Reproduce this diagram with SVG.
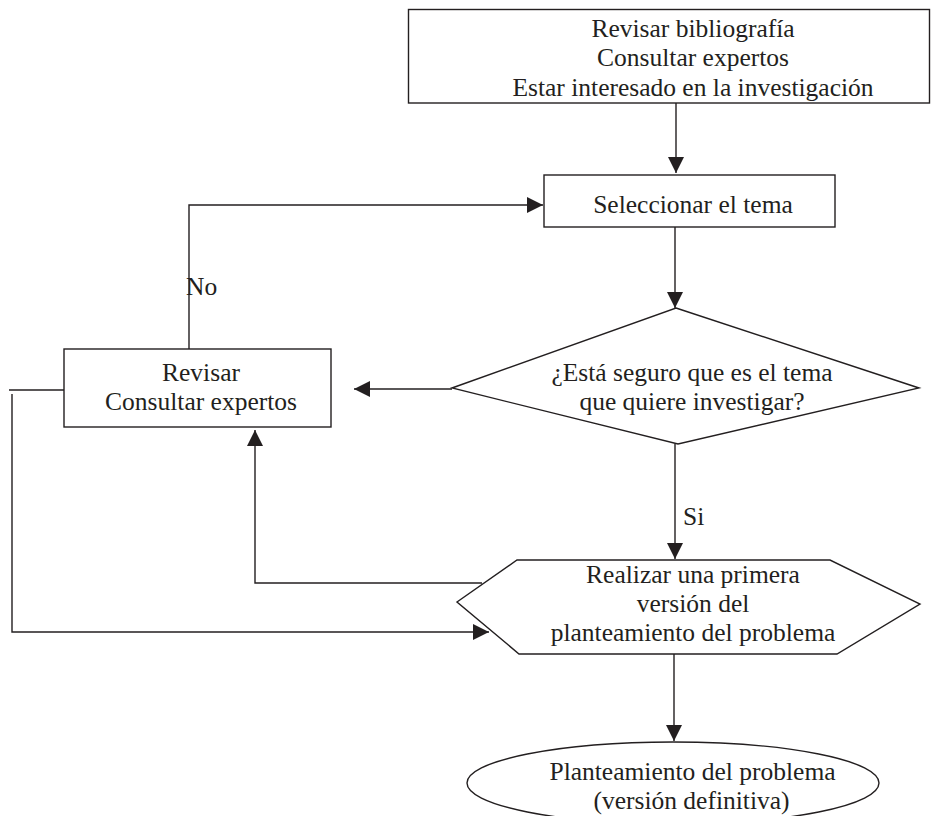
<svg xmlns="http://www.w3.org/2000/svg" width="931" height="816" viewBox="0 0 931 816">
<style>
.shape{fill:#fff;stroke:#231f20;stroke-width:1.4}
.conn{fill:none;stroke:#231f20;stroke-width:1.4}
text{font-family:"Liberation Serif","Times New Roman","DejaVu Serif",serif;font-size:25.5px;fill:#231f20;text-anchor:middle}
.lbl{text-anchor:start}
</style>
<defs>
<marker id="arr" viewBox="0 0 16 16" refX="16" refY="8" markerWidth="16" markerHeight="16" markerUnits="userSpaceOnUse" orient="auto">
<path d="M0,0 L16,8 L0,16 z" fill="#231f20"/>
</marker>
</defs>
<rect width="931" height="816" fill="#fff"/>
<g id="connectors">
<path class="conn" d="M676,103 V173" marker-end="url(#arr)"/>
<path class="conn" d="M675,227 V308" marker-end="url(#arr)"/>
<path class="conn" d="M452,389 H354" marker-end="url(#arr)"/>
<path class="conn" d="M189,349 V205 H543" marker-end="url(#arr)"/>
<path class="conn" d="M675,444 V559" marker-end="url(#arr)"/>
<path class="conn" d="M482,583 H255 V430" marker-end="url(#arr)"/>
<path class="conn" d="M64,390 H9"/>
<path class="conn" d="M12,394 V632 H489" marker-end="url(#arr)"/>
<path class="conn" d="M674,654 V741" marker-end="url(#arr)"/>
<text class="lbl" x="186" y="295">No</text>
<text class="lbl" x="683" y="525">Si</text>
</g>
<g id="node-inicio">
<rect class="shape" x="408.5" y="9.5" width="521" height="93.5"/>
<text x="693" y="37">Revisar bibliografía</text>
<text x="693" y="66">Consultar expertos</text>
<text x="693" y="95.5">Estar interesado en la investigación</text>
</g>
<g id="node-seleccionar">
<rect class="shape" x="544" y="175" width="291" height="52"/>
<text x="693" y="213">Seleccionar el tema</text>
</g>
<g id="node-decision">
<polygon class="shape" points="676,308 919,388 678,444 452,388"/>
<text x="692" y="381">¿Está seguro que es el tema</text>
<text x="692" y="409.5">que quiere investigar?</text>
</g>
<g id="node-revisar">
<rect class="shape" x="64" y="349" width="267" height="78"/>
<text x="201" y="381">Revisar</text>
<text x="201" y="410">Consultar expertos</text>
</g>
<g id="node-primera-version">
<polygon class="shape" points="517,560 830,560 920,604 837,654 519,654 457,602"/>
<text x="693" y="583">Realizar una primera</text>
<text x="693" y="612">versión del</text>
<text x="693" y="641">planteamiento del problema</text>
</g>
<g id="node-definitiva">
<ellipse class="shape" cx="673" cy="783" rx="206" ry="41"/>
<text x="692.5" y="780">Planteamiento del problema</text>
<text x="691.5" y="809">(versión definitiva)</text>
</g>
</svg>
